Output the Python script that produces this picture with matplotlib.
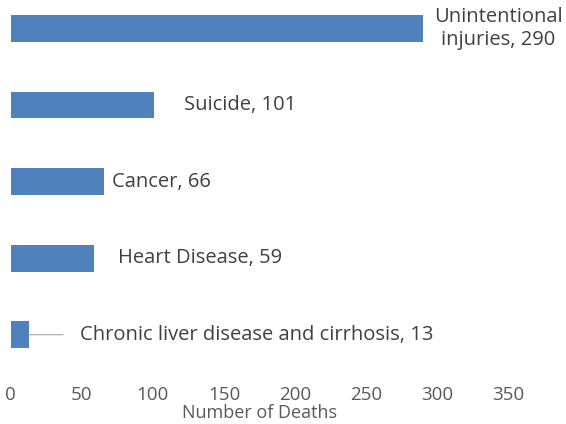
import matplotlib.pyplot as plt

plt.rcParams['font.family'] = ['Open Sans', 'DejaVu Sans']

# data
causes = ['Unintentional\ninjuries', 'Suicide', 'Cancer', 'Heart Disease',
          'Chronic liver disease and cirrhosis']
deaths = [290, 101, 66, 59, 13]

# label offset from the bar end (px) -- mimics the hand-dragged Excel labels
label_dx = [11, 30, 8, 24, 51]

fig = plt.figure(figsize=(5.66, 4.24), dpi=100)
ax = fig.add_axes([10.5 / 566, 1 - 373 / 424, 498 / 566, 373 / 424])

ypos = list(range(len(causes)))
ax.barh(ypos, deaths, height=0.35, color='#4f81bd')

ax.set_xlim(0, 350)
ax.set_ylim(4.5, -0.37)
ax.set_xticks(range(0, 351, 50))
ax.set_yticks([])
ax.tick_params(axis='x', length=0, pad=9, labelsize=13.5, labelcolor='#595959')
for s in ax.spines.values():
    s.set_visible(False)

ax.set_xlabel('Number of Deaths', fontsize=13, color='#595959', labelpad=0)

for i, (name, val) in enumerate(zip(causes, deaths)):
    txt = f'{name}, {val}'
    ax.annotate(txt, xy=(val, i), xytext=(label_dx[i], 0),
                textcoords='offset pixels', ha='left', va='center',
                fontsize=14.5, color='#404040', multialignment='center',
                linespacing=1.2)
    if i == 4:
        # leader line
        ax.annotate('', xy=(val, i), xytext=(34, 0), textcoords='offset pixels',
                    arrowprops=dict(arrowstyle='-', color='#a6a6a6', lw=0.8,
                                    shrinkA=0, shrinkB=0))

plt.savefig('out.png', dpi=100)
